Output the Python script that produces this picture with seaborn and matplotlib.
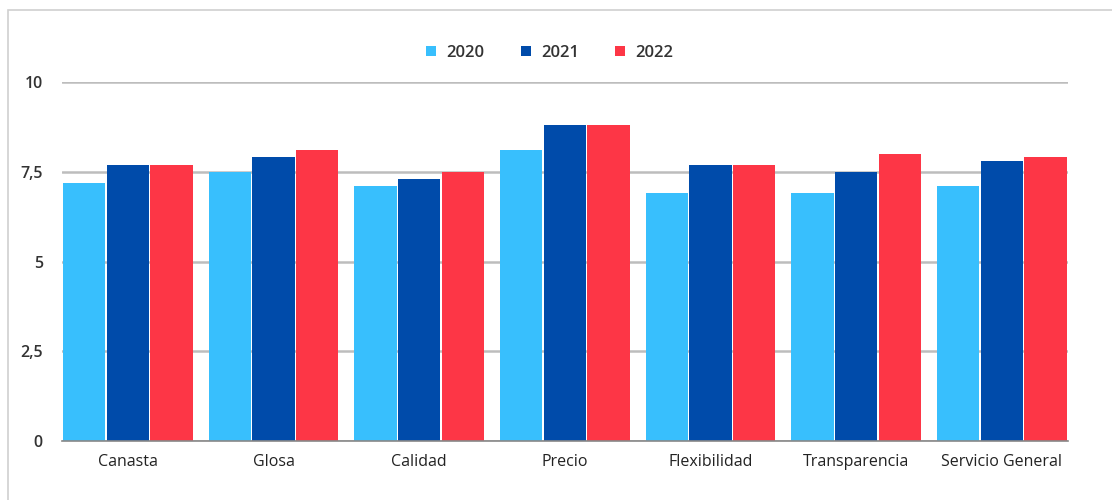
import matplotlib
matplotlib.use("Agg")
import matplotlib.pyplot as plt
import pandas as pd
import seaborn as sns
from matplotlib.patches import Rectangle

# Data
categories = ["Canasta", "Glosa", "Calidad", "Precio", "Flexibilidad",
              "Transparencia", "Servicio General"]
years = ["2020", "2021", "2022"]
values_2020 = [7.2, 7.5, 7.1, 8.1, 6.9, 6.9, 7.1]
values_2021 = [7.7, 7.9, 7.3, 8.8, 7.7, 7.5, 7.8]
values_2022 = [7.7, 8.1, 7.5, 8.8, 7.7, 8.0, 7.9]
y_ticks = [0, 2.5, 5, 7.5, 10]
y_tick_labels = ["0", "2,5", "5", "7,5", "10"]
colors = ["#38BFFD", "#004BAA", "#FD3646"]

df = pd.DataFrame({
    "categoria": categories * 3,
    "anio": [years[0]] * 7 + [years[1]] * 7 + [years[2]] * 7,
    "valor": values_2020 + values_2021 + values_2022,
})

sns.set_style("white")
plt.rcParams["font.family"] = ["Open Sans", "DejaVu Sans"]

fig = plt.figure(figsize=(11.12, 5), dpi=100)
ax = fig.add_axes([0.056, 0.118, 0.904, 0.718])

sns.barplot(data=df, x="categoria", y="valor", hue="anio", palette=colors,
            width=0.9, gap=0.03, ax=ax, legend=True, saturation=1,
            edgecolor="none", linewidth=0)

ax.set_ylim(0, 10)
ax.set_xlim(-0.45, 6.45)
ax.set_yticks(y_ticks)
ax.set_yticklabels(y_tick_labels)
ax.set_xlabel("")
ax.set_ylabel("")

# grid lines behind bars
ax.set_axisbelow(True)
ax.yaxis.grid(True, color="#bdbdbd", linewidth=1.8)
ax.xaxis.grid(False)
for s in ["top", "right", "left"]:
    ax.spines[s].set_visible(False)
ax.spines["bottom"].set_color("#888888")
ax.spines["bottom"].set_linewidth(1.2)

ax.tick_params(axis="y", length=0, pad=14, labelsize=11.5, labelcolor="#333333")
ax.tick_params(axis="x", length=0, pad=9, labelsize=11.5, labelcolor="#222222")
for lab in ax.get_yticklabels():
    lab.set_fontweight("semibold")

leg = ax.legend(loc="center", bbox_to_anchor=(0.485, 1.081), ncol=3, frameon=False,
                handlelength=0.6, handleheight=0.6, handletextpad=0.6,
                columnspacing=2.2, fontsize=12)
for t in leg.get_texts():
    t.set_color("#333333")
    t.set_fontweight("semibold")

# thin frame of the screenshot (left and top edges)
fig.add_artist(Rectangle((0.007, -0.01), 1.1, 0.99, transform=fig.transFigure,
                         fill=False, edgecolor="#d0d0d0", linewidth=1.2))

fig.savefig("out.png", dpi=100)
